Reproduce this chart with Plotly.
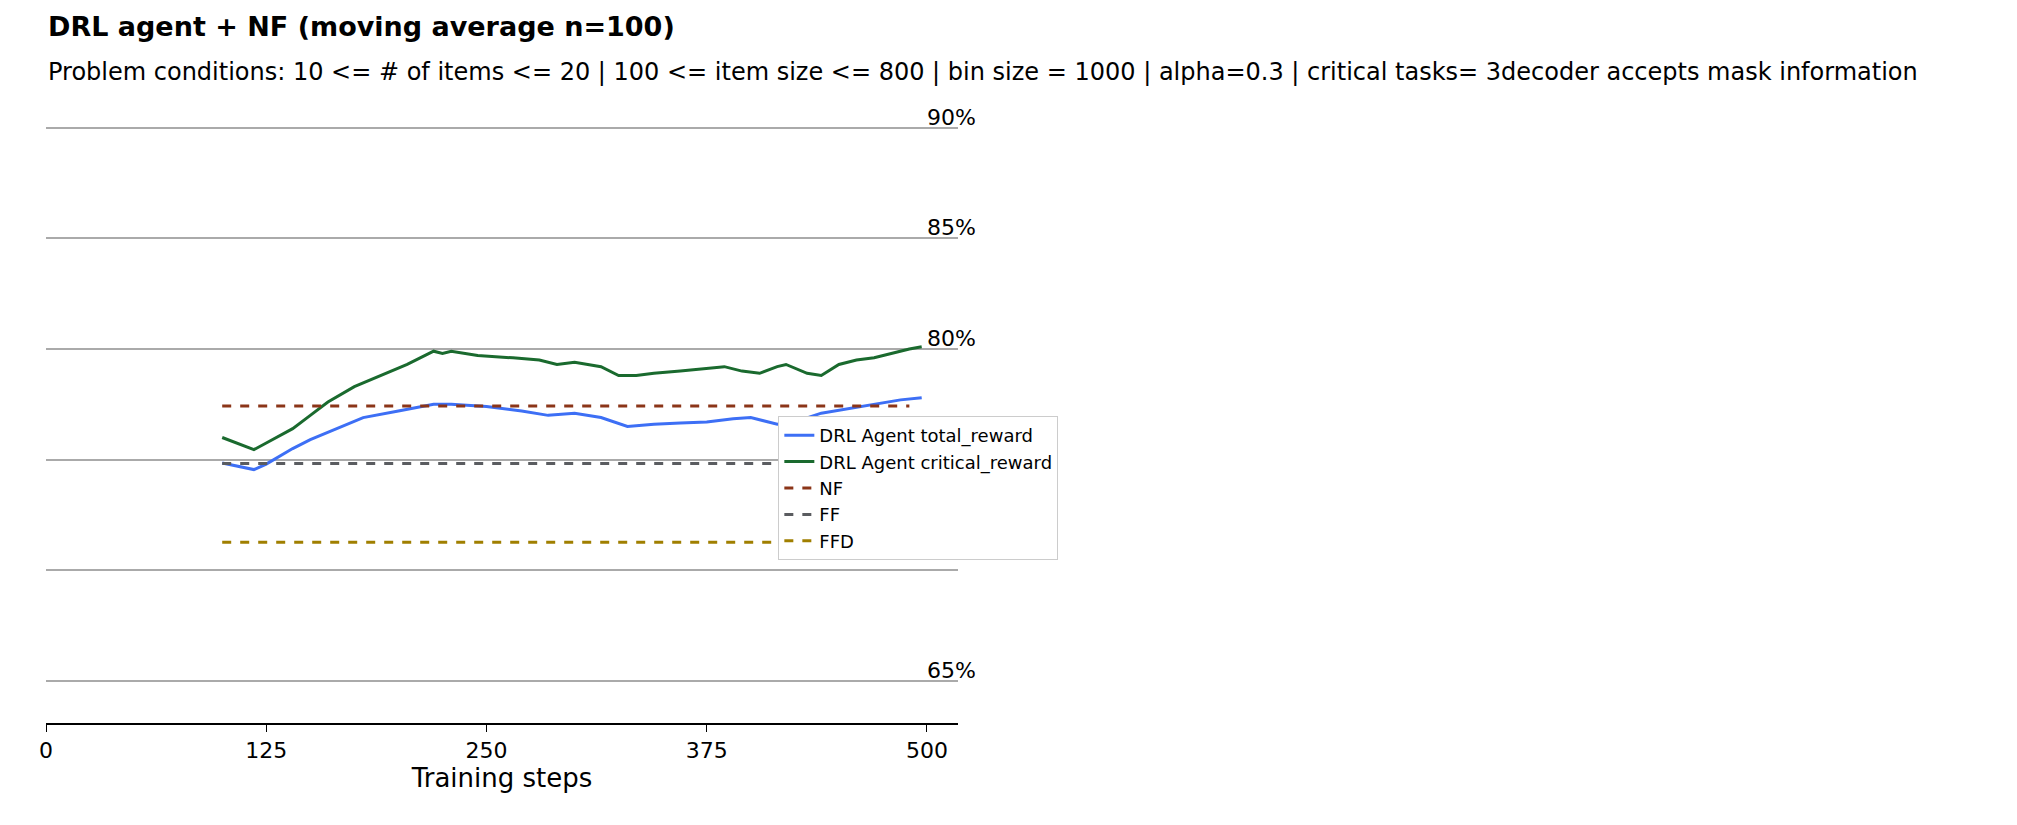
import plotly.graph_objects as go

# steps and moving-average rewards (%)
total_x = [100, 110, 118, 125, 140, 150, 165, 180, 200, 220, 230, 250, 270, 285, 300, 315, 330,
           345, 360, 375, 390, 400, 415, 425, 440, 455, 470, 485, 497]
total_y = [74.85, 74.7, 74.55, 74.8, 75.5, 75.9, 76.4, 76.9, 77.2, 77.5, 77.5, 77.4, 77.2, 77.0,
           77.1, 76.9, 76.5, 76.6, 76.65, 76.7, 76.85, 76.9, 76.6, 76.7, 77.1, 77.3, 77.5, 77.7, 77.8]
crit_x = [100, 110, 118, 125, 140, 150, 160, 175, 190, 205, 220, 225, 230, 245, 265, 280, 290,
          300, 315, 325, 335, 345, 360, 375, 385, 395, 405, 415, 420, 432, 440, 450, 460, 470,
          480, 490, 497]
crit_y = [76.0, 75.7, 75.45, 75.75, 76.4, 77.0, 77.6, 78.3, 78.8, 79.3, 79.9, 79.8, 79.9, 79.7,
          79.6, 79.5, 79.3, 79.4, 79.2, 78.8, 78.8, 78.9, 79.0, 79.1, 79.2, 79.0, 78.9, 79.2, 79.3,
          78.9, 78.8, 79.3, 79.5, 79.6, 79.8, 80.0, 80.1]
base_x = [100, 490]
nf_val = 77.42
ff_val = 74.82
ffd_val = 71.27
grid_vals = [65, 70, 75, 80, 85, 90]
label_vals = [65, 80, 85, 90]  # 70 and 75 sit behind the legend
x_ticks = [0, 125, 250, 375, 500]

font = "DejaVu Sans"
fig = go.Figure()
fig.add_trace(go.Scatter(x=total_x, y=total_y, mode="lines", name="DRL Agent total_reward",
                         line=dict(color="#3d6ff5", width=3)))
fig.add_trace(go.Scatter(x=crit_x, y=crit_y, mode="lines", name="DRL Agent critical_reward",
                         line=dict(color="#1a6a2e", width=3)))
for name, val, col in [("NF", nf_val, "#8b3518"), ("FF", ff_val, "#5a5c60"), ("FFD", ffd_val, "#a07f00")]:
    fig.add_trace(go.Scatter(x=base_x, y=[val, val], mode="lines", name=name,
                             line=dict(color=col, width=3, dash="dash")))

for v in label_vals:
    fig.add_annotation(x=499, y=v, text=f"{v}%", showarrow=False, xanchor="left", yanchor="bottom",
                       yshift=-4, font=dict(size=22, color="black", family=font))

# title + subtitle as paper annotations
fig.add_annotation(xref="paper", yref="paper", x=-0.0005, y=1.128, xanchor="left", yanchor="bottom",
                   text="<b>DRL agent + NF (moving average n=100)</b>", showarrow=False,
                   font=dict(size=27, family=font, color="black"))
fig.add_annotation(xref="paper", yref="paper", x=-0.0005, y=1.055, xanchor="left", yanchor="bottom",
                   text="Problem conditions: 10 <= # of items <= 20 | 100 <= item size <= 800 | "
                        "bin size = 1000 | alpha=0.3 | critical tasks= 3decoder accepts mask information",
                   showarrow=False, font=dict(size=24, family=font, color="black"))

fig.update_layout(
    width=2017, height=825,
    margin=dict(l=38, r=1067, t=113, b=110),
    plot_bgcolor="white", paper_bgcolor="white",
    font=dict(family=font, size=22, color="black"),
    xaxis=dict(range=[0, 517.6], tickvals=x_ticks, showgrid=False, zeroline=False,
               showline=True, linecolor="black", linewidth=1.5, ticks="outside", ticklen=7,
               tickcolor="black", title=dict(text="Training steps", standoff=4)),
    yaxis=dict(range=[63.1, 90.3], tickvals=grid_vals, showticklabels=False, showgrid=True,
               gridcolor="#aaaaaa", gridwidth=1.5, zeroline=False, showline=False),
    legend=dict(x=0.803, y=0.51, xanchor="left", yanchor="top", bgcolor="white",
                bordercolor="#cccccc", borderwidth=1, font=dict(size=18)),
    showlegend=True,
)
fig.write_html("out.html")
